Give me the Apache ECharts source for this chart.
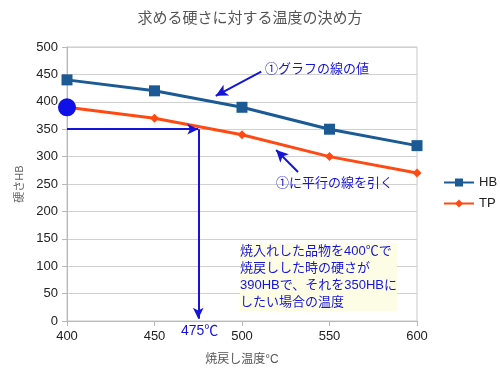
<!DOCTYPE html>
<html>
<head>
<meta charset="utf-8">
<script src="https://cdn.jsdelivr.net/npm/echarts@6/dist/echarts.min.js"></script>
<style>
  html, body { margin: 0; padding: 0; background: #fff; }
  #chart { width: 500px; height: 376px; }
</style>
</head>
<body>
<div id="chart"></div>
<script>
// 焼戻し温度と硬さ
var temps = [400, 450, 500, 550, 600];
var hbValues = [440, 420, 390, 350, 320];
var tpValues = [390, 370, 340, 300, 270];
var targetHB = 350;
var foundTemp = 475;

var font = '"Liberation Sans", "Noto Sans CJK JP", sans-serif';
var blue = '#1515d8';

var chart = echarts.init(document.getElementById('chart'));

function pairs(xs, ys) {
  var out = [];
  for (var i = 0; i < xs.length; i++) out.push([xs[i], ys[i]]);
  return out;
}

var option = {
  animation: false,
  textStyle: { fontFamily: font },
  title: {
    text: '求める硬さに対する温度の決め方',
    left: 'center',
    top: 6,
    textStyle: { fontSize: 15, fontWeight: 'normal', color: '#555', fontFamily: font }
  },
  legend: {
    orient: 'vertical',
    left: 438,
    top: 171,
    itemWidth: 30,
    itemHeight: 10,
    itemGap: 8,
    textStyle: { fontSize: 13, color: '#222' },
    data: ['HB', 'TP']
  },
  grid: {
    left: 67, right: 83, top: 47, bottom: 55,
    show: true, borderColor: '#c8c8c8', borderWidth: 1
  },
  xAxis: {
    type: 'value',
    min: 400, max: 600, interval: 50,
    name: '焼戻し温度°C',
    nameLocation: 'middle',
    nameGap: 33,
    nameTextStyle: { fontSize: 12, color: '#555' },
    axisLine: { lineStyle: { color: '#b8b8b8' } },
    axisTick: { show: true, length: 5, lineStyle: { color: '#b8b8b8' } },
    axisLabel: { fontSize: 13, color: '#222', margin: 9 },
    splitLine: { show: false }
  },
  yAxis: {
    type: 'value',
    min: 0, max: 500, interval: 50,
    name: '硬さHB',
    nameLocation: 'middle',
    nameGap: 40,
    nameTextStyle: { fontSize: 11, color: '#666' },
    axisLine: { show: true, lineStyle: { color: '#b8b8b8' } },
    axisTick: { show: true, length: 5, lineStyle: { color: '#b8b8b8' } },
    axisLabel: { fontSize: 13, color: '#222', margin: 9 },
    splitLine: { lineStyle: { color: '#d0d0d0' } }
  },
  series: [
    {
      name: 'HB',
      type: 'line',
      data: pairs(temps, hbValues),
      symbol: 'rect',
      symbolSize: 11,
      lineStyle: { width: 3, color: '#1b5a94' },
      itemStyle: { color: '#1b5a94' },
      z: 3,
      markLine: {
        silent: true,
        symbol: ['none', 'arrow'],
        symbolSize: [9, 12],
        label: { show: false },
        lineStyle: { color: blue, width: 2, type: 'solid' },
        data: [
          [{ coord: [511, 455] }, { coord: [485, 411] }],
          [{ coord: [532, 272] }, { coord: [519.5, 312] }]
        ]
      }
    },
    {
      name: 'TP',
      type: 'line',
      data: pairs(temps, tpValues),
      symbol: 'diamond',
      symbolSize: 9,
      lineStyle: { width: 3, color: '#ff4a14' },
      itemStyle: { color: '#ff4a14' },
      z: 2,
      markPoint: {
        silent: true,
        symbol: 'circle',
        symbolSize: 18,
        itemStyle: { color: '#1010e8' },
        label: { show: false },
        data: [{ coord: [temps[0], tpValues[0]] }]
      },
      markLine: {
        silent: true,
        symbol: ['none', 'arrow'],
        symbolSize: [8, 11],
        label: { show: false },
        lineStyle: { color: blue, width: 2, type: 'solid' },
        data: [
          [{ coord: [temps[0], targetHB] }, { coord: [foundTemp, targetHB] }],
          [{ coord: [foundTemp, targetHB] }, { coord: [foundTemp, 4] }]
        ]
      }
    }
  ],
  graphic: [
    {
      type: 'text', left: 265, top: 63, z: 10,
      style: { text: '①グラフの線の値', font: '13px ' + font, fill: blue }
    },
    {
      type: 'text', left: 276, top: 177, z: 10,
      style: { text: '①に平行の線を引く', font: '13px ' + font, fill: blue }
    },
    {
      type: 'text', left: 240, top: 243, z: 10,
      style: {
        text: '焼入れした品物を400℃で\n焼戻しした時の硬さが\n390HBで、それを350HBに\nしたい場合の温度',
        font: '13px ' + font,
        lineHeight: 17,
        fill: blue,
        backgroundColor: '#fdfde6'
      }
    },
    {
      type: 'text', left: 181, top: 324, z: 10,
      style: { text: foundTemp + '℃', font: '14px ' + font, fill: blue }
    }
  ]
};

chart.setOption(option);
</script>
</body>
</html>
